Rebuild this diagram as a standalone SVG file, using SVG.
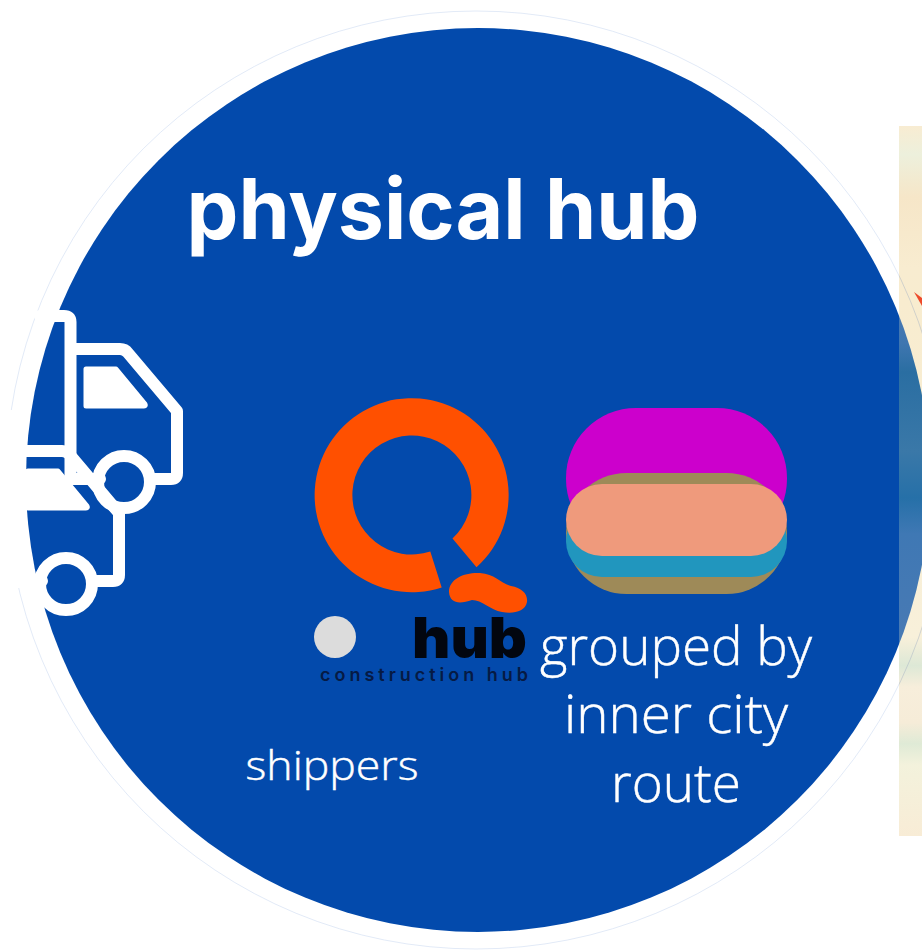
<svg xmlns="http://www.w3.org/2000/svg" width="922" height="950" viewBox="0 0 922 950">
<style>
.t{fill:#fff;stroke:#fff;stroke-width:.45;font-family:"Open Sans","Noto Sans",sans-serif;text-anchor:middle;font-weight:300}
.tr{fill:none;stroke:#fff;stroke-width:12;stroke-linejoin:round;stroke-linecap:round}
.win{fill:#fff;stroke:#fff;stroke-width:5;stroke-linejoin:round}
</style>
<defs>
<clipPath id="c"><rect x="26" y="0" width="400" height="950"/></clipPath>
<clipPath id="d"><circle cx="478" cy="480" r="452"/></clipPath>
<clipPath id="e"><rect x="899" y="126" width="23" height="710"/></clipPath>
<linearGradient id="m" x1="0" y1="0" x2="0" y2="1">
<stop offset="0" stop-color="#f8ecd2"/><stop offset=".04" stop-color="#edf0dc"/><stop offset=".1" stop-color="#f6e6c8"/><stop offset=".2" stop-color="#f8ecd0"/><stop offset=".25" stop-color="#f8eccf"/><stop offset=".72" stop-color="#f8f0da"/><stop offset=".76" stop-color="#dde8d6"/><stop offset=".79" stop-color="#f7eedb"/><stop offset=".84" stop-color="#f6ecd8"/><stop offset=".87" stop-color="#dfead6"/><stop offset=".9" stop-color="#f3f2dc"/><stop offset="1" stop-color="#f8ecd6"/>
</linearGradient>
<linearGradient id="b" x1="0" y1="0" x2="0" y2="1">
<stop offset="0" stop-color="#4a78b4"/><stop offset=".12" stop-color="#3f76b0"/><stop offset=".2" stop-color="#2a6ea2"/><stop offset=".42" stop-color="#3a78a8"/><stop offset=".55" stop-color="#2670a8"/><stop offset=".65" stop-color="#3f78b4"/><stop offset="1" stop-color="#4a7ab4"/>
</linearGradient>
<g id="truck">
<path class="tr" d="M40 316H64Q70.500 316 70.500 322V479H100M70.500 349H120Q125 349 128 353L177 411V473Q177 479 171 479H150"/>
<path class="win" d="M86 369H116L145 404Q146 406 144 406H86Z"/>
<circle cx="124" cy="482" r="26" fill="none" stroke="#fff" stroke-width="12"/>
</g>
</defs>
<rect width="922" height="950" fill="#fff"/>
<g id="hub-disc">
<ellipse cx="476" cy="480" rx="470" ry="469" fill="#fff" stroke="#c5d4ee" stroke-width=".5"/>
<rect x="0" y="410" width="26" height="178" fill="#fff"/>
<circle cx="478" cy="480" r="452" fill="#034aac"/>
</g>
<g id="map-edge">
<rect x="899" y="126" width="23" height="710" fill="url(#m)"/>
<rect x="899" y="300" width="23" height="360" fill="url(#b)" clip-path="url(#d)"/>
<ellipse cx="476" cy="480" rx="470" ry="469" fill="none" stroke="#a9b4c4" stroke-width=".5" clip-path="url(#e)"/>
<polygon points="914,292 922,298 922,306" fill="#ee4a2a"/>
</g>
<text x="443" y="238.500" fill="#fff" text-anchor="middle" font-family="Inter,'Noto Sans',sans-serif" font-size="84" font-weight="700" textLength="513" lengthAdjust="spacingAndGlyphs">physical hub</text>
<g id="shippers">
<use href="#truck"/>
<g clip-path="url(#c)"><use href="#truck" x="-58" y="102"/></g>
<text class="t" x="332" y="780" font-size="40" textLength="173" lengthAdjust="spacingAndGlyphs">shippers</text>
</g>
<g id="logo">
<path d="M452.500 538.500L476.500 567.300A97 97 0 1 0 441.700 587.400L430.300 551.600A59.500 59.500 0 1 1 452.500 538.500Z" fill="#ff5000"/>
<path d="M449 592C449 578 466 572 480 573C495 574 500 583 511 586C522 588 528 594 527 602C525 612 513 614 502 612C490 610 482 600 472 600C460 604 450 604 449 592Z" fill="#ff5000"/>
<circle cx="335" cy="637" r="21" fill="#dcdcdc"/>
<text x="412" y="658" font-family="Inter,'Liberation Sans',sans-serif" font-weight="900" font-size="56" textLength="115" lengthAdjust="spacingAndGlyphs" fill="#02060f">hub</text>
<text x="320" y="681" font-family="Inter,'Liberation Sans',sans-serif" font-weight="600" font-size="18" textLength="208" fill="#061a44">construction hub</text>
</g>
<g id="route-group">
<rect x="566" y="408" width="221" height="141" rx="70" fill="#cc00cc"/>
<rect x="566" y="473" width="221" height="121" rx="60.500" fill="#9e8a58"/>
<rect x="566" y="505" width="221" height="72" rx="36" fill="#2196be"/>
<rect x="566" y="484" width="221" height="72" rx="36" fill="#ef9a7c"/>
<text class="t" x="676" y="665" font-size="54" textLength="272" lengthAdjust="spacingAndGlyphs">grouped by</text>
<text class="t" x="676" y="733" font-size="54" textLength="224" lengthAdjust="spacingAndGlyphs">inner city</text>
<text class="t" x="676" y="802" font-size="54" textLength="130" lengthAdjust="spacingAndGlyphs">route</text>
</g>
</svg>
